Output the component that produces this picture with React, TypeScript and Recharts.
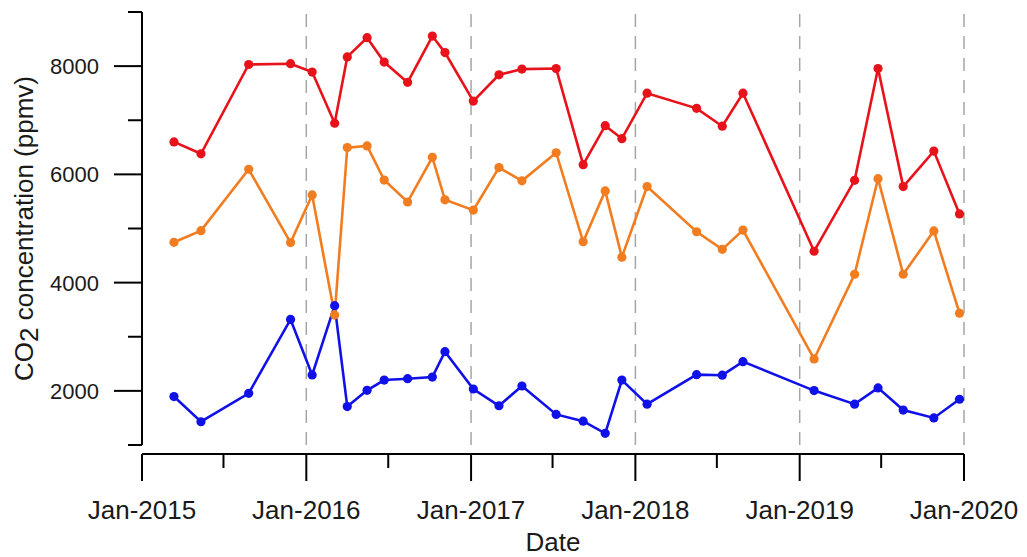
import React from 'react';
import { LineChart, Line, XAxis, YAxis, ReferenceLine } from 'recharts';

// Sampling dates shared by the three series
const sampleDates = [
  '2015-03-13', '2015-05-12', '2015-08-26', '2015-11-27',
  '2016-01-14', '2016-03-04', '2016-04-01', '2016-05-15', '2016-06-22', '2016-08-13', '2016-10-07', '2016-11-04',
  '2017-01-06', '2017-03-04', '2017-04-24', '2017-07-09', '2017-09-07', '2017-10-26', '2017-12-02',
  '2018-01-27', '2018-05-17', '2018-07-13', '2018-08-28',
  '2019-02-02', '2019-05-03', '2019-06-24', '2019-08-19', '2019-10-26', '2019-12-22',
];

// CO2 concentrations (ppmv)
const upperSeries = [
  6600, 6380, 8030, 8045,
  7890, 6945, 8170, 8525, 8075, 7700, 8555, 8250,
  7355, 7840, 7945, 7955, 6180, 6900, 6660,
  7500, 7220, 6890, 7500,
  4580, 5890, 7955, 5775, 6430, 5270,
];
const middleSeries = [
  4745, 4960, 6095, 4740,
  5620, 3400, 6495, 6525, 5895, 5490, 6315, 5530,
  5340, 6125, 5880, 6400, 4755, 5695, 4470,
  5775, 4940, 4615, 4970,
  2590, 4155, 5920, 4155, 4955, 3435,
];
const lowerSeries = [
  1895, 1430, 1955, 3320,
  2295, 3575, 1710, 2010, 2200, 2225, 2255, 2725,
  2035, 1725, 2090, 1565, 1440, 1215, 2200,
  1755, 2300, 2290, 2540,
  2005, 1755, 2055, 1645, 1500, 1845,
];

const yearTicks = [2015, 2016, 2017, 2018, 2019, 2020];
const dashedYears = [2016, 2017, 2018, 2019, 2020];
const yTicks = [1000, 2000, 3000, 4000, 5000, 6000, 7000, 8000, 9000];

const jan = (y: number) => Date.UTC(y, 0, 1);
const jul = (y: number) => Date.UTC(y, 6, 1);

const xTicks: number[] = [];
yearTicks.forEach((y, i) => {
  xTicks.push(jan(y));
  if (i < yearTicks.length - 1) xTicks.push(jul(y));
});

const chartData = sampleDates.map((d, i) => ({
  t: Date.parse(d + 'T00:00:00Z'),
  upper: upperSeries[i],
  middle: middleSeries[i],
  lower: lowerSeries[i],
}));

const FONT = '"Liberation Sans", Arial, Helvetica, sans-serif';
const INK = '#1a1a1a';
const RED = '#e8121b';
const ORANGE = '#f27c20';
const BLUE = '#1010e8';

const AXIS_DROP = 9;

const XTick = (props: any) => {
  const { x, y, payload } = props;
  const d = new Date(payload.value);
  const major = d.getUTCMonth() === 0;
  const y0 = y + AXIS_DROP;
  return (
    <g>
      <line x1={x} x2={x} y1={y0} y2={y0 + (major ? 27 : 14)} stroke="#000" strokeWidth={2} />
      {major && (
        <text x={x} y={y + 74} textAnchor="middle" fontSize={26} fontFamily={FONT} fill={INK}>
          {`Jan-${d.getUTCFullYear()}`}
        </text>
      )}
    </g>
  );
};

const YTick = (props: any) => {
  const { x, y, payload } = props;
  const major = payload.value % 2000 === 0;
  return (
    <g>
      <line x1={x - (major ? 28 : 14)} x2={x} y1={y} y2={y} stroke="#000" strokeWidth={2} />
      {major && (
        <text x={x - 43} y={y} dy="0.36em" textAnchor="end" fontSize={22} fontFamily={FONT} fill={INK}>
          {payload.value}
        </text>
      )}
    </g>
  );
};

const YTitle = (props: any) => {
  const vb = props.viewBox || { x: 0, y: 12, width: 142, height: 433 };
  const cx = vb.x + 33;
  const cy = vb.y + vb.height / 2;
  return (
    <text
      transform={`translate(${cx},${cy}) rotate(-90)`}
      textAnchor="middle"
      fontSize={26}
      fontFamily={FONT}
      fill={INK}
    >
      CO<tspan dy={5}>2</tspan>
      <tspan dy={-5}> concentration (ppmv)</tspan>
    </text>
  );
};

const XTitle = (props: any) => {
  const vb = props.viewBox || { x: 142, y: 445, width: 822, height: 100 };
  return (
    <text
      x={vb.x + vb.width / 2}
      y={vb.y + 106}
      textAnchor="middle"
      fontSize={26}
      fontFamily={FONT}
      fill={INK}
    >
      Date
    </text>
  );
};

export default function App() {
  return (
    <div style={{ position: 'absolute', left: 0, top: 0, width: 1027, height: 557, background: '#fff' }}>
      <LineChart
        width={1027}
        height={557}
        data={chartData}
        margin={{ top: 12, right: 63, bottom: 12, left: 0 }}
      >
        <XAxis
          dataKey="t"
          type="number"
          scale="linear"
          domain={[jan(2015), jan(2020)]}
          ticks={xTicks}
          interval={0}
          height={100}
          tickSize={0}
          tickMargin={0}
          tickLine={false}
          tick={<XTick />}
          axisLine={{ stroke: '#000', strokeWidth: 2, transform: `translate(0,${AXIS_DROP})` }}
          label={<XTitle />}
        />
        <YAxis
          type="number"
          domain={[1000, 9000]}
          ticks={yTicks}
          interval={0}
          width={142}
          tickSize={0}
          tickMargin={0}
          tickLine={false}
          tick={<YTick />}
          axisLine={{ stroke: '#000', strokeWidth: 2 }}
          label={<YTitle />}
        />
        {dashedYears.map((y) => (
          <ReferenceLine
            key={y}
            x={jan(y)}
            stroke="#a6a6a6"
            strokeWidth={1.5}
            strokeDasharray="13 9"
          />
        ))}
        <Line
          dataKey="lower"
          stroke={BLUE}
          strokeWidth={2.6}
          dot={{ r: 4.6, fill: BLUE, stroke: BLUE, strokeWidth: 0 }}
          activeDot={false}
          isAnimationActive={false}
        />
        <Line
          dataKey="middle"
          stroke={ORANGE}
          strokeWidth={2.6}
          dot={{ r: 4.6, fill: ORANGE, stroke: ORANGE, strokeWidth: 0 }}
          activeDot={false}
          isAnimationActive={false}
        />
        <Line
          dataKey="upper"
          stroke={RED}
          strokeWidth={2.6}
          dot={{ r: 4.6, fill: RED, stroke: RED, strokeWidth: 0 }}
          activeDot={false}
          isAnimationActive={false}
        />
      </LineChart>
    </div>
  );
}
